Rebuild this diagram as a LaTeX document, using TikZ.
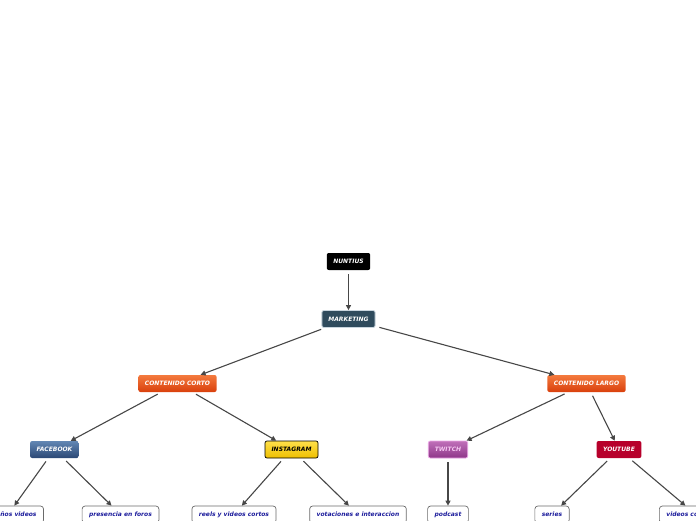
\documentclass[tikz,border=0pt]{standalone}
\usepackage{fontspec}
\setmainfont{DejaVu Sans}
\usetikzlibrary{arrows.meta}
\definecolor{linkgray}{HTML}{474747}
\definecolor{mkblue}{HTML}{2F4B5D}
\definecolor{mkglow}{HTML}{C9D5DE}
\definecolor{orangetop}{HTML}{F47A3E}
\definecolor{orangebot}{HTML}{D9400C}
\definecolor{fbtop}{HTML}{6287B4}
\definecolor{fbbot}{HTML}{2B4875}
\definecolor{igtop}{HTML}{FFE04A}
\definecolor{igbot}{HTML}{EEBF00}
\definecolor{twtop}{HTML}{C070B9}
\definecolor{twbot}{HTML}{8E3689}
\definecolor{twtext}{HTML}{F6C8F2}
\definecolor{twline}{HTML}{EBA6E6}
\definecolor{ytred}{HTML}{B7002B}
\definecolor{leafline}{HTML}{6A6A6A}
\definecolor{leaftext}{HTML}{1C1C9C}
\tikzset{
  topic/.style={rounded corners=2pt, minimum height=17pt, inner xsep=6.5pt,
    inner ysep=0pt, text=white, font=\fontsize{6}{7}\selectfont\bfseries\itshape},
  orangetopic/.style={topic, top color=orangetop, bottom color=orangebot},
  leaf/.style={rounded corners=3pt, minimum height=17pt, inner xsep=7pt,
    inner ysep=0pt, draw=leafline, fill=white, line width=0.7pt, text=leaftext,
    font=\fontsize{6}{7}\selectfont\bfseries\itshape},
  link/.style={draw=linkgray, line width=1.1pt,
    -{Triangle[length=5pt,width=5pt]}, shorten <=4pt}
}
\begin{document}
\begin{tikzpicture}[x=1pt,y=-1pt]
  \useasboundingbox (0,0) rectangle (696,520);
  \clip (0,0) rectangle (696,520);
  \draw
    (348.5,261.5) node[topic, fill=black] (nuntius){NUNTIUS}
    (348.5,319) node[topic, fill=mkblue, draw=mkglow, line width=0.8pt] (marketing){MARKETING}
    (177.5,383.5) node[orangetopic] (corto){CONTENIDO CORTO}
    (586.5,383.5) node[orangetopic] (largo){CONTENIDO LARGO}
    (54.5,449.5) node[topic, top color=fbtop, bottom color=fbbot] (facebook){FACEBOOK}
    (291.5,449.5) node[topic, top color=igtop, bottom color=igbot, draw=black, line width=0.7pt, text=black] (instagram){INSTAGRAM}
    (448,449.5) node[topic, top color=twtop, bottom color=twbot, draw=twline, line width=0.7pt, text=twtext] (twitch){TWITCH}
    (619,449.5) node[topic, fill=ytred] (youtube){YOUTUBE}
    (8,514.5) node[leaf] (pequenos){pequeños videos}
    (120.5,514.5) node[leaf] (foros){presencia en foros}
    (234,514.5) node[leaf] (reels){reels y videos cortos}
    (358,514.5) node[leaf] (votaciones){votaciones e interaccion}
    (448,514.5) node[leaf] (podcast){podcast}
    (552,514.5) node[leaf] (series){series}
    (659,514.5) node[leaf, anchor=west] (completos){videos completos};
  \begin{scope}[link]
    \draw (nuntius) to (marketing);
    \draw (marketing) to (corto);
    \draw (marketing) to (largo);
    \draw (corto) to (facebook);
    \draw (corto) to (instagram);
    \draw (largo) to (twitch);
    \draw (largo) to (youtube);
    \draw (facebook) to (pequenos);
    \draw (facebook) to (foros);
    \draw (instagram) to (reels);
    \draw (instagram) to (votaciones);
    \draw (twitch) to (podcast);
    \draw (youtube) to (series);
    \draw (youtube) to (completos);
  \end{scope}
\end{tikzpicture}
\end{document}
